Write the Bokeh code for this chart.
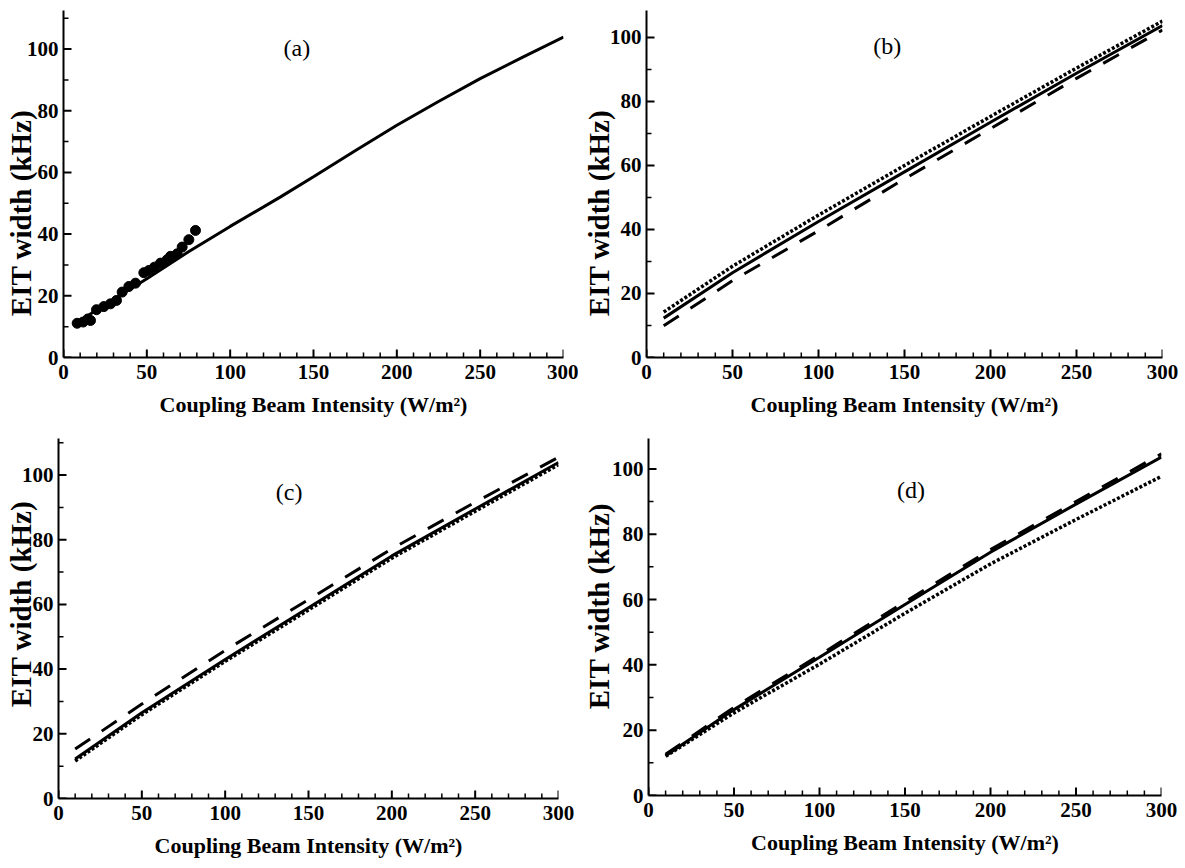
from bokeh.plotting import figure
from bokeh.models import Range1d, Label, FixedTicker
from bokeh.layouts import column, row
from bokeh.embed import file_html
from bokeh.resources import INLINE

# ---------------- data ----------------
x_major = [0, 50, 100, 150, 200, 250, 300]
x_minor = list(range(0, 301, 10))
y_major = [0, 20, 40, 60, 80, 100]
y_minor = list(range(0, 111, 10))

x_label = "Coupling Beam Intensity (W/m²)"
y_label = "EIT width (kHz)"

# (a) theory curve + experimental points
a_theory_x = [8, 25, 50, 75, 100, 130, 150, 175, 200, 225, 250, 275, 300]
a_theory_y = [11.3, 17.2, 25.5, 34.3, 42.5, 52.0, 58.6, 67.0, 75.3, 83.0, 90.4, 97.2, 103.9]
a_exp_x = [8.2, 11.8, 14.6, 16.2, 19.8, 24.2, 28.2, 31.8, 35.2, 39.2, 43.2,
           48.2, 51.2, 54.6, 58.2, 62.2, 64.2, 68.2, 71.2, 75.2, 79.2]
a_exp_y = [11.1, 11.5, 12.5, 12.0, 15.5, 16.5, 17.4, 18.5, 21.2, 23.0, 24.1,
           27.5, 28.2, 29.3, 30.6, 31.7, 32.8, 33.6, 35.8, 38.2, 41.2]

# (b)-(d) curves
curve_x = [10, 50, 100, 150, 200, 250, 300]
b_solid = [12.3, 26.5, 42.5, 58.0, 73.5, 88.8, 103.7]
b_dotted = [14.2, 28.5, 44.5, 60.0, 75.3, 90.4, 105.1]
b_dashed = [9.9, 24.0, 39.6, 55.8, 71.5, 87.2, 102.3]
c_solid = [12.2, 26.5, 43.0, 59.0, 75.0, 89.5, 103.9]
c_dotted = [11.6, 25.9, 42.4, 58.3, 74.3, 88.8, 103.2]
c_dashed = [15.3, 29.2, 45.8, 61.5, 77.2, 91.6, 105.5]
d_solid = [12.2, 26.3, 42.3, 58.5, 74.5, 89.2, 103.6]
d_dotted = [12.0, 25.3, 40.2, 55.8, 70.9, 84.5, 97.7]
d_dashed = [12.6, 27.0, 43.0, 59.3, 75.3, 90.0, 104.6]

FONT = "Liberation Serif"
NB = "\u00a0"


def panel(tag, tag_xy, ylab_text, ylab_standoff, fw, fh, ymax, bl, br, bt, bb):
    p = figure(frame_width=fw, frame_height=fh,
               x_range=Range1d(0, 300), y_range=Range1d(0, ymax),
               output_backend="svg", toolbar_location=None,
               min_border_left=bl, min_border_right=br,
               min_border_top=bt, min_border_bottom=bb,
               background_fill_color="white", border_fill_color="white")
    p.outline_line_color = None
    p.xgrid.visible = False
    p.ygrid.visible = False
    p.xaxis.ticker = FixedTicker(ticks=x_major, minor_ticks=x_minor)
    p.yaxis.ticker = FixedTicker(ticks=y_major, minor_ticks=y_minor)
    p.xaxis.axis_label = x_label
    p.yaxis.axis_label = ylab_text
    for ax in (p.xaxis[0], p.yaxis[0]):
        ax.axis_line_width = 2
        ax.axis_line_color = "black"
        ax.major_tick_in = 0
        ax.major_tick_out = 0
        ax.minor_tick_in = 0
        ax.minor_tick_out = 0
        ax.major_label_text_font = FONT
        ax.major_label_text_font_style = "bold"
        ax.major_label_text_font_size = "21px"
        ax.major_label_text_color = "black"
        ax.axis_label_text_font = FONT
        ax.axis_label_text_font_style = "bold"
        ax.axis_label_text_color = "black"
    p.xaxis.axis_label_text_font_size = "22px"
    p.yaxis.axis_label_text_font_size = "29px"
    p.xaxis.major_label_standoff = 7
    p.xaxis.axis_label_standoff = 10
    p.yaxis.major_label_standoff = 5
    p.yaxis.axis_label_standoff = ylab_standoff

    # inward tick marks drawn at the tick values
    kx = 300.0 / fw
    ky = ymax / fh
    xmin_ = [t for t in x_minor if t not in x_major]
    ymaj_ = [t for t in y_major if t <= ymax]
    ymin_ = [t for t in y_minor if t not in y_major and t <= ymax]
    p.segment(x0=x_major, y0=0, x1=x_major, y1=8 * ky, line_color="black", line_width=2)
    p.segment(x0=xmin_, y0=0, x1=xmin_, y1=5 * ky, line_color="black", line_width=1.5)
    p.segment(x0=0, y0=ymaj_, x1=8 * kx, y1=ymaj_, line_color="black", line_width=2)
    p.segment(x0=0, y0=ymin_, x1=5 * kx, y1=ymin_, line_color="black", line_width=1.5)

    p.add_layout(Label(x=tag_xy[0], y=tag_xy[1], text=tag, text_font=FONT,
                       text_font_size="24px", text_align="center",
                       text_baseline="middle", text_color="black"))
    return p


pa = panel("(a)", (140, 100.4), y_label + NB * 8, -13, 500, 347, 112.5, 63, 15, 10, 75)
pa.line(a_theory_x, a_theory_y, line_color="black", line_width=3)
pa.scatter(a_exp_x, a_exp_y, size=10, marker="circle", fill_color="black", line_color="black")

pb = panel("(b)", (140, 97.4), y_label + NB * 8, -8, 516, 347, 108.4, 68, 20, 10, 75)
pb.line(curve_x, b_solid, line_color="black", line_width=3)
pb.line(curve_x, b_dotted, line_color="black", line_width=3.5, line_dash="3 2")
pb.line(curve_x, b_dashed, line_color="black", line_width=3, line_dash="18 14")

pc = panel("(c)", (138.4, 94.9), NB * 4 + y_label, -18, 500, 360, 111.3, 58, 20, 6, 60)
pc.line(curve_x, c_solid, line_color="black", line_width=3)
pc.line(curve_x, c_dotted, line_color="black", line_width=3.5, line_dash="3 2")
pc.line(curve_x, c_dashed, line_color="black", line_width=3, line_dash="18 14")

pd = panel("(d)", (153.5, 93.4), NB * 3 + y_label, -6, 513, 357, 109.3, 70, 20, 6, 63)
pd.line(curve_x, d_solid, line_color="black", line_width=3)
pd.line(curve_x, d_dotted, line_color="black", line_width=3.5, line_dash="3 2")
pd.line(curve_x, d_dashed, line_color="black", line_width=3, line_dash="18 14")

layout = column(row(pa, pb), row(pc, pd))

with open("out.html", "w") as f:
    f.write(file_html(layout, INLINE))
